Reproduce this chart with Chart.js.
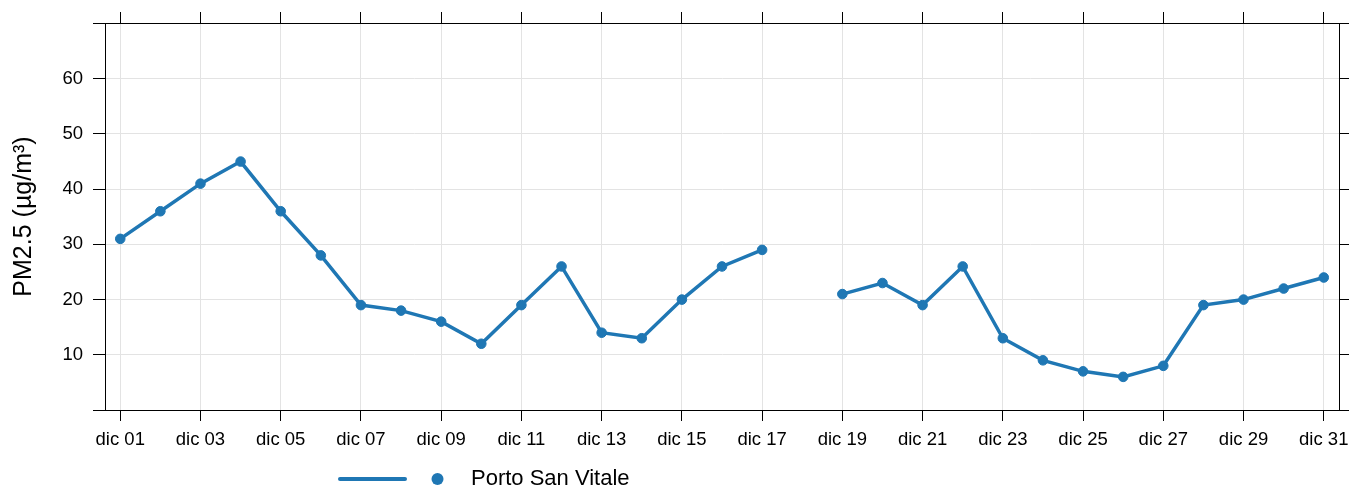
<!DOCTYPE html>
<html>
<head>
<meta charset="utf-8">
<script src="https://cdn.jsdelivr.net/npm/chart.js@4.4.1/dist/chart.umd.min.js"></script>
<style>
  html, body { margin: 0; padding: 0; background: #ffffff; }
  #wrap { width: 1349px; height: 489px; position: relative; }
</style>
</head>
<body>
<div id="wrap"><canvas id="c" width="1349" height="489"></canvas></div>
<script>
// ---- data ----
const dayLabels = ["dic 01","dic 02","dic 03","dic 04","dic 05","dic 06","dic 07","dic 08","dic 09","dic 10",
                   "dic 11","dic 12","dic 13","dic 14","dic 15","dic 16","dic 17","dic 18","dic 19","dic 20",
                   "dic 21","dic 22","dic 23","dic 24","dic 25","dic 26","dic 27","dic 28","dic 29","dic 30","dic 31"];
const pm25Values = [31, 36, 41, 45, 36, 28, 19, 18, 16, 12,
                    19, 26, 14, 13, 20, 26, 29, null, 21, 23,
                    19, 26, 13, 9, 7, 6, 8, 19, 20, 22, 24];
const seriesName = "Porto San Vitale";
const xTickIndices = [0, 2, 4, 6, 8, 10, 12, 14, 16, 18, 20, 22, 24, 26, 28, 30];
const yTickValues = [10, 20, 30, 40, 50, 60];
const yTitle = "PM2.5 (µg/m³)";

const LINE_COLOR = "#1f77b4";
const FONT = "'Liberation Sans', Arial, Helvetica, sans-serif";
const GRID = "#e3e3e3";
const AXIS = "#000000";

const points = pm25Values.map((v, i) => ({ x: i, y: v }));

const setXTicks = s => { s.ticks = xTickIndices.map(v => ({ value: v })); };
const setYTicks = s => { s.ticks = yTickValues.map(v => ({ value: v })); };

const framePlugin = {
  id: 'frame',
  afterDraw(chart) {
    const { ctx, chartArea: a } = chart;
    ctx.save();
    ctx.strokeStyle = AXIS;
    ctx.lineWidth = 1;
    ctx.beginPath();
    ctx.moveTo(a.left - 12, a.top + 0.5); ctx.lineTo(a.right + 10, a.top + 0.5);
    ctx.moveTo(a.left - 12, a.bottom + 0.5); ctx.lineTo(a.right + 10, a.bottom + 0.5);
    ctx.stroke();
    ctx.restore();
  }
};

const legendPlugin = {
  id: 'customLegend',
  afterDraw(chart) {
    const { ctx } = chart;
    const ds = chart.data.datasets[0];
    const y = 479;
    ctx.save();
    ctx.strokeStyle = ds.borderColor;
    ctx.lineWidth = 4;
    ctx.lineCap = 'round';
    ctx.beginPath();
    ctx.moveTo(340, y); ctx.lineTo(405, y);
    ctx.stroke();
    ctx.fillStyle = ds.borderColor;
    ctx.beginPath();
    ctx.arc(437.5, y, 6, 0, Math.PI * 2);
    ctx.fill();
    ctx.fillStyle = '#000';
    ctx.font = "22px " + FONT;
    ctx.textBaseline = 'middle';
    ctx.textAlign = 'left';
    ctx.fillText(ds.label, 471, y);
    ctx.restore();
  }
};

const noPad = s => { s.paddingLeft = 0; s.paddingRight = 0; };

new Chart(document.getElementById('c'), {
  type: 'line',
  data: {
    datasets: [{
      label: seriesName,
      data: points,
      borderColor: LINE_COLOR,
      backgroundColor: LINE_COLOR,
      borderWidth: 3.5,
      pointRadius: 4.8,
      pointBorderWidth: 1,
      pointBackgroundColor: LINE_COLOR,
      pointBorderColor: LINE_COLOR,
      spanGaps: false,
      tension: 0
    }]
  },
  options: {
    responsive: false,
    animation: false,
    layout: { padding: 0 },
    plugins: {
      legend: { display: false },
      tooltip: { enabled: false }
    },
    scales: {
      x: {
        type: 'linear',
        position: 'bottom',
        min: -0.38,
        max: 30.38,
        afterBuildTicks: setXTicks,
        afterFit: s => { s.height = 79; noPad(s); },
        grid: { color: GRID, lineWidth: 1, drawTicks: true, tickLength: 11, tickColor: AXIS, drawOnChartArea: true },
        border: { display: false },
        ticks: {
          autoSkip: false, maxRotation: 0, minRotation: 0,
          padding: 8,
          color: '#000',
          font: { family: FONT, size: 18.5 },
          callback: v => dayLabels[v]
        }
      },
      xTop: {
        type: 'linear',
        position: 'top',
        min: -0.38,
        max: 30.38,
        afterBuildTicks: setXTicks,
        afterFit: s => { s.height = 23; noPad(s); },
        grid: { drawOnChartArea: false, drawTicks: true, tickLength: 11, tickColor: AXIS, color: AXIS },
        border: { display: false },
        ticks: { display: false }
      },
      y: {
        type: 'linear',
        position: 'left',
        min: 0,
        max: 70.1,
        afterBuildTicks: setYTicks,
        afterFit: s => { s.width = 105; },
        grid: { color: GRID, lineWidth: 1, drawTicks: true, tickLength: 12, tickColor: AXIS, drawOnChartArea: true },
        border: { display: true, color: AXIS, width: 1 },
        ticks: {
          padding: 10,
          color: '#000',
          font: { family: FONT, size: 18.5 }
        },
        title: {
          display: true,
          text: yTitle,
          color: '#000',
          font: { family: FONT, size: 25 },
          padding: { top: 9, bottom: 0 }
        }
      },
      yRight: {
        type: 'linear',
        position: 'right',
        min: 0,
        max: 70.1,
        afterBuildTicks: setYTicks,
        afterFit: s => { s.width = 10; },
        grid: { drawOnChartArea: false, drawTicks: true, tickLength: 10, tickColor: AXIS, color: AXIS },
        border: { display: true, color: AXIS, width: 1 },
        ticks: { display: false }
      }
    }
  },
  plugins: [framePlugin, legendPlugin]
});
</script>
</body>
</html>
